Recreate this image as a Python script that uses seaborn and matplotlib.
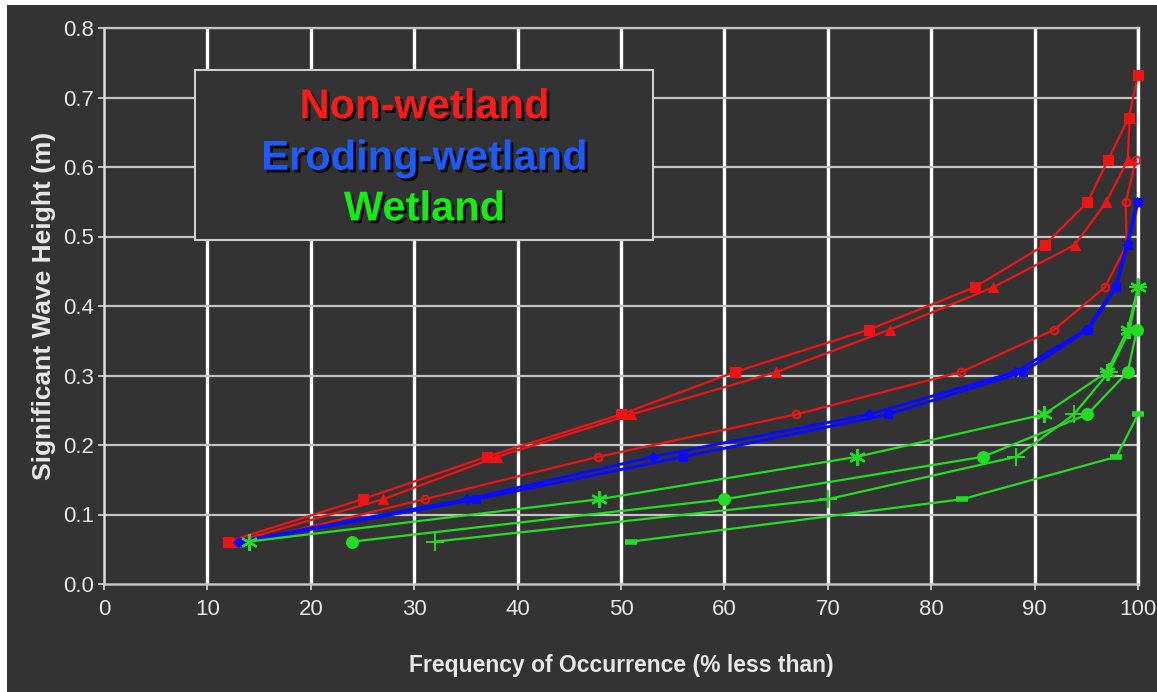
import matplotlib
matplotlib.use("Agg")
import matplotlib.pyplot as plt
import matplotlib.patheffects as pe
from matplotlib.patches import Rectangle
import numpy as np
import pandas as pd
import seaborn as sns

# ---- data ----
heights = [0.061, 0.122, 0.183, 0.244, 0.305, 0.366, 0.427, 0.488, 0.549, 0.610, 0.671, 0.732]

nw_square_x   = [12.0, 25.0, 37.0, 50.0, 61.0, 74.0, 84.2, 91.0, 95.1, 97.1, 99.1, 100.0]
nw_triangle_x = [12.8, 27.0, 38.0, 51.0, 65.0, 76.0, 86.0, 93.9, 96.9, 99.0, 99.2]
nw_circle_x   = [14.0, 31.0, 47.8, 66.9, 82.9, 91.9, 96.8, 98.9, 98.8, 99.8]

ew_diamond_x  = [13.0, 35.1, 53.1, 74.0, 88.1, 95.0, 97.8, 98.9, 99.9]
ew_square_x   = [13.5, 36.0, 56.0, 75.8, 88.9, 95.2, 97.9, 99.0, 100.0]

w_star_x   = [14.0, 47.9, 72.8, 90.9, 97.0, 99.0, 100.0]
w_circle_x = [24.0, 60.0, 85.0, 95.1, 99.0, 99.9]
w_plus_x   = [32.0, 70.0, 88.2, 93.8, 97.2, 99.2, 100.0]
w_dash_x   = [51.0, 83.0, 97.9, 100.0]

x_ticks = list(range(0, 101, 10))
y_ticks = [0.0, 0.1, 0.2, 0.3, 0.4, 0.5, 0.6, 0.7, 0.8]
y_tick_labels = ["0.0", "0.1", "0.2", "0.3", "0.4", "0.5", "0.6", "0.7", "0.8"]
legend_labels = ["Non-wetland", "Eroding-wetland", "Wetland"]

RED = "#ee1414"
BLUE = "#0a0aff"
GREEN = "#22dd22"
BG = "#333333"

sns.set_theme(style="dark")
plt.rcParams["font.family"] = ["Liberation Sans", "DejaVu Sans"]

W, H = 1157, 692
fig = plt.figure(figsize=(W / 100, H / 100), dpi=100, facecolor="white")
fig.patches.append(Rectangle((7 / W, 0), 1 - 7 / W, 1 - 5 / H, transform=fig.transFigure,
                             facecolor=BG, edgecolor="none", zorder=-10))
ax = fig.add_axes([104 / W, 1 - 584 / H, (1138 - 104) / W, (584 - 28) / H])
ax.set_facecolor(BG)

series = [
    (nw_triangle_x, RED, 1.6, dict(marker="^", markersize=6.5, markerfacecolor=RED, markeredgecolor=RED, markeredgewidth=0.8)),
    (nw_circle_x, RED, 1.6, dict(marker="o", markersize=5.5, markerfacecolor="none", markeredgecolor=RED, markeredgewidth=1.4)),
    (nw_square_x, RED, 1.6, dict(marker="s", markersize=7.8, markerfacecolor=RED, markeredgecolor=RED, markeredgewidth=0.8)),
    (ew_diamond_x, BLUE, 2.1, dict(marker="D", markersize=5.5, markerfacecolor=BLUE, markeredgecolor=BLUE, markeredgewidth=0.8)),
    (ew_square_x, BLUE, 2.1, dict(marker="s", markersize=6, markerfacecolor=BLUE, markeredgecolor=BLUE, markeredgewidth=0.8)),
    (w_dash_x, GREEN, 1.6, dict(marker="_", markersize=9, markerfacecolor=GREEN, markeredgecolor=GREEN, markeredgewidth=4)),
    (w_plus_x, GREEN, 1.6, dict(marker="+", markersize=13, markerfacecolor=GREEN, markeredgecolor=GREEN, markeredgewidth=1.4)),
    (w_circle_x, GREEN, 1.6, dict(marker="o", markersize=8.5, markerfacecolor=GREEN, markeredgecolor=GREEN, markeredgewidth=0.8)),
    (w_star_x, GREEN, 1.6, dict(marker=(6, 2, 0), markersize=12, markerfacecolor=GREEN, markeredgecolor=GREEN, markeredgewidth=1.6)),
]

for xs, col, lw, mk in series:
    df = pd.DataFrame({"x": xs, "y": heights[:len(xs)]})
    sns.lineplot(data=df, x="x", y="y", ax=ax, color=col, linewidth=lw, estimator=None,
                 sort=False, legend=False, zorder=4, clip_on=False, **mk)

ax.set_xlim(0, 100)
ax.set_ylim(0, 0.8)
ax.set_xticks(x_ticks)
ax.set_yticks(y_ticks)
ax.set_yticklabels(y_tick_labels)

ax.grid(False)
for xv in x_ticks[1:]:
    ax.axvline(xv, color="white", lw=2.4, zorder=1)
for yv in y_ticks[1:]:
    ax.axhline(yv, color="#c4c4c4", lw=1.6, zorder=1)

for s in ["top", "right", "left", "bottom"]:
    ax.spines[s].set_visible(True)
ax.spines["left"].set_color("#dddddd")
ax.spines["left"].set_linewidth(1.8)
ax.spines["bottom"].set_color("#c4c4c4")
ax.spines["bottom"].set_linewidth(1.8)
ax.spines["top"].set_color("#c4c4c4")
ax.spines["top"].set_linewidth(1.6)
ax.spines["right"].set_color("white")
ax.spines["right"].set_linewidth(2.4)

ax.tick_params(axis="both", direction="out", length=4, width=1.2, color="#dddddd",
               labelcolor="#e8e8e8", labelsize=16, bottom=True, left=True)
ax.tick_params(axis="x", pad=7)
ax.tick_params(axis="y", pad=3)

ax.set_xlabel("Frequency of Occurrence (% less than)", fontsize=16.5, fontweight="bold",
              color="#e8e8e8", labelpad=24)
ax.set_ylabel("Significant Wave Height (m)", fontsize=19, fontweight="bold",
              color="#e8e8e8", labelpad=5)

# legend-like title box
ax.add_patch(Rectangle((8.8, 0.495), 44.3, 0.245, facecolor=BG, edgecolor="#cfcfcf",
                       lw=1.5, zorder=6))
shadow = [pe.SimplePatchShadow(offset=(2, -2), shadow_rgbFace="black", alpha=0.9), pe.Normal()]
for lab, col, yv in zip(legend_labels, ["#ff1a1a", "#1a5cff", "#11ee11"], [0.686, 0.612, 0.539]):
    ax.text(31.0, yv, lab, color=col, fontsize=30, fontweight="bold", ha="center",
            va="center", zorder=7, path_effects=shadow)

fig.savefig("out.png", dpi=100, facecolor=fig.get_facecolor())
